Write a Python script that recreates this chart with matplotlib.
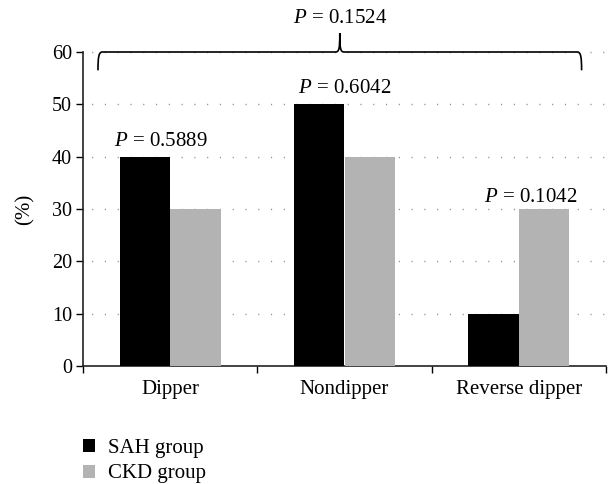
import matplotlib
matplotlib.use("Agg")
import matplotlib.pyplot as plt
from matplotlib.path import Path
from matplotlib.patches import PathPatch, Patch
import numpy as np

categories = ["Dipper", "Nondipper", "Reverse dipper"]
sah_group = [40, 50, 10]
ckd_group = [30, 40, 30]
pair_pvalues = ["0.5889", "0.6042", "0.1042"]
overall_pvalue = "0.1524"
yticks = [0, 10, 20, 30, 40, 50, 60]

plt.rcParams['font.family'] = ['Liberation Serif', 'DejaVu Serif']
plt.rcParams['mathtext.fontset'] = 'custom'
plt.rcParams['mathtext.it'] = 'Liberation Serif:italic'
plt.rcParams['mathtext.rm'] = 'Liberation Serif'

FS = 15

fig = plt.figure(figsize=(6.08, 4.84), dpi=100)
ax = fig.add_axes([83/608, 118/484, 523/608, 314/484])

x = np.arange(len(categories))
w = 0.29
ax.bar(x - w/2, sah_group, width=w, color="#000000", zorder=3, label="SAH group")
ax.bar(x + w/2, ckd_group, width=w, color="#b3b3b3", zorder=3, label="CKD group")

ax.set_xlim(-0.5, 2.5)
ax.set_ylim(0, 60)
ax.set_yticks(yticks)
ax.tick_params(axis='y', labelsize=14.5, length=5, width=1, direction='out', pad=3)
ax.set_xticks([-0.5, 0.5, 1.5, 2.5])
ax.set_xticklabels([])
ax.tick_params(axis='x', length=5, width=1, direction='out')
ax.set_xticks(x, minor=True)
ax.set_xticklabels(categories, minor=True, fontsize=FS)
ax.tick_params(axis='x', which='minor', length=0, pad=10)

for s in ['top', 'right']:
    ax.spines[s].set_visible(False)
for s in ['left', 'bottom']:
    ax.spines[s].set_linewidth(1.2)
    ax.spines[s].set_color('#222222')

for yv in yticks[1:]:
    ax.axhline(yv, color='#8c8c8c', linestyle=(3, (0.8, 8.4)), linewidth=1.0, zorder=1, clip_on=False)

ax.set_ylabel("(%)", fontsize=FS, labelpad=12)


def plabel(v):
    return r"$P$ = " + v


# pairwise p labels
ax.text(-0.053, 42.0, plabel(pair_pvalues[0]), ha='center', va='baseline', fontsize=FS)
ax.text(1.0, 52.1, plabel(pair_pvalues[1]), ha='center', va='baseline', fontsize=FS)
ax.text(2.07, 31.4, plabel(pair_pvalues[2]), ha='center', va='baseline', fontsize=FS, clip_on=False)

# brace
xl, xr, xc = -0.414, 2.36, 0.973
ytop, yend, ytip = 60, 56.5, 63.6
dx = 0.025
verts = [
    (xl, yend),
    (xl, ytop - 1.0), (xl + 0.004, ytop), (xl + dx, ytop),
    (xc - dx, ytop),
    (xc - 0.004, ytop), (xc, ytop + 0.6), (xc, ytip),
    (xc, ytop + 0.6), (xc + 0.004, ytop), (xc + dx, ytop),
    (xr - dx, ytop),
    (xr - 0.004, ytop), (xr, ytop - 1.0), (xr, yend),
]
codes = [Path.MOVETO,
         Path.CURVE4, Path.CURVE4, Path.CURVE4,
         Path.LINETO,
         Path.CURVE4, Path.CURVE4, Path.CURVE4,
         Path.CURVE4, Path.CURVE4, Path.CURVE4,
         Path.LINETO,
         Path.CURVE4, Path.CURVE4, Path.CURVE4]
brace = PathPatch(Path(verts, codes), facecolor='none', edgecolor='black', linewidth=1.2,
                  clip_on=False, zorder=5)
ax.add_patch(brace)
ax.text(xc, 65.5, plabel(overall_pvalue), ha='center', va='baseline', fontsize=FS, clip_on=False)

handles = [Patch(facecolor="#000000", edgecolor='none'), Patch(facecolor="#b3b3b3", edgecolor='none')]
fig.legend(handles, ["SAH group", "CKD group"], loc='upper left', bbox_to_anchor=(83/608, 0.094),
           frameon=False, fontsize=FS, handlelength=0.58, handleheight=0.58, handletextpad=0.62,
           labelspacing=0.33, borderaxespad=0, borderpad=0)

fig.savefig("out.png", dpi=100)
